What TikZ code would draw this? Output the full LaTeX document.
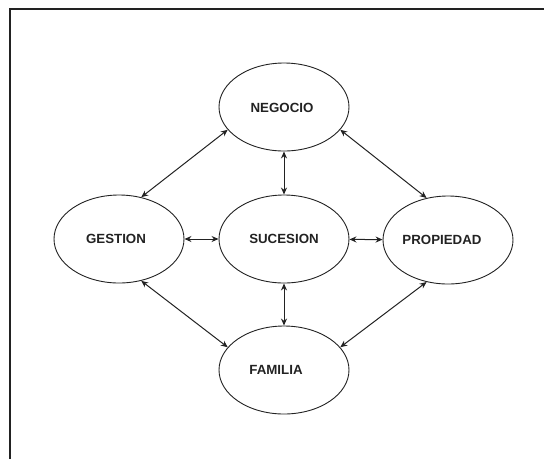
\documentclass[tikz,border=0pt]{standalone}
\usepackage{fontspec}
\setmainfont{Liberation Sans}
\usetikzlibrary{shapes.geometric,arrows.meta}
\definecolor{ink}{HTML}{222222}
\tikzset{
  oval/.style={ellipse,draw=ink,line width=0.9pt,minimum width=130pt,minimum height=88pt,inner sep=0pt},
  lbl/.style={font=\bfseries\fontsize{13.3}{15}\selectfont,text=ink,inner sep=0pt},
  link/.style={draw=ink,line width=1pt,{Stealth[length=7pt,width=6pt]}-{Stealth[length=7pt,width=6pt]}},
  frame/.style={draw=ink,line width=1.5pt}
}
\begin{document}
\begin{tikzpicture}[x=1pt,y=-1pt]
  \useasboundingbox (0,0) rectangle (544,459);
  % open frame: top and left edges only
  \coordinate (fl) at (10,459);
  \coordinate (fc) at (10,9);
  \coordinate (fr) at (544,9);
  \draw[frame] (fl) -- (fc) -- (fr);

  % the five ellipses
  \node[oval] (neg) at (284,107) {};
  \node[oval] (ges) at (119,239) {};
  \node[oval] (suc) at (284,239) {};
  \node[oval] (pro) at (448,240) {};
  \node[oval] (fam) at (284,370) {};

  % their captions
  \node[lbl] (tneg) at (282,108) {NEGOCIO};
  \node[lbl] (tges) at (116,239) {GESTION};
  \node[lbl] (tsuc) at (284,239) {SUCESION};
  \node[lbl] (tpro) at (442,240) {PROPIEDAD};
  \node[lbl] (tfam) at (276,370) {FAMILIA};

  % two-way links
  \draw[link] (neg) -- (suc);
  \draw[link] (suc) -- (fam);
  \draw[link] (ges) -- (suc);
  \draw[link] (suc) -- (pro);
  \draw[link] (neg.202) -- (ges.62);
  \draw[link] (neg.-22) -- (pro.117);
  \draw[link] (ges.-62) -- (fam.158);
  \draw[link] (pro.-117) -- (fam.22);
\end{tikzpicture}
\end{document}
